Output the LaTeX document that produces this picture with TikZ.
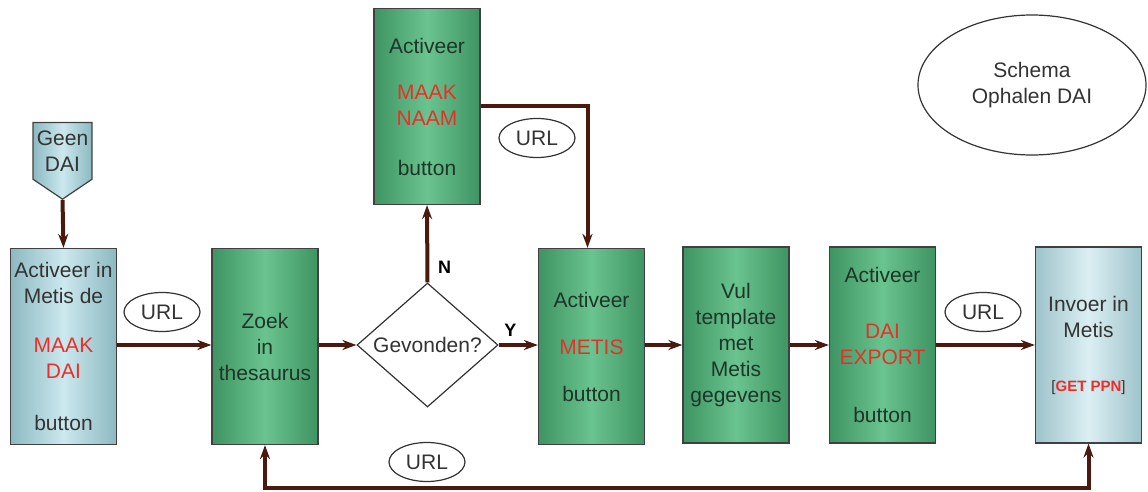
\documentclass[tikz,border=0pt]{standalone}
\usepackage{fontspec}
\setmainfont{Liberation Sans}
\usetikzlibrary{positioning, shapes.geometric, shapes.symbols, arrows.meta}
\definecolor{groenrand}{HTML}{3E9462}
\definecolor{groenmidden}{HTML}{6AC48F}
\definecolor{blauwrand}{HTML}{8DB9C1}
\definecolor{blauwmidden}{HTML}{CBE8EE}
\definecolor{pijlkleur}{HTML}{4A1A0E}
\definecolor{rood}{HTML}{E8302A}
\definecolor{groentekst}{HTML}{1E3527}
\definecolor{grijstekst}{HTML}{333333}
\newcommand{\roodtxt}[1]{\textcolor{rood}{#1}}
\tikzset{
	blok/.style={draw=black!75, line width=0.6pt, minimum width=53pt, minimum height=98pt,
		inner sep=0pt, align=center, font=\fontsize{10.5}{13}\selectfont},
	groenblok/.style={blok, left color=groenrand, right color=groenrand, middle color=groenmidden, text=groentekst},
	blauwblok/.style={blok, left color=blauwrand, right color=blauwrand, middle color=blauwmidden, text=grijstekst},
	urlbel/.style={ellipse, draw=black!80, line width=0.6pt, fill=white, minimum width=38pt, minimum height=19.5pt,
		inner sep=0pt, text=grijstekst, font=\fontsize{10.5}{13}\selectfont},
	pijl/.style={draw=pijlkleur, line width=2pt, -{Stealth[length=7pt, width=5pt]}},
	keuze/.style={font=\bfseries\fontsize{9}{11}\selectfont}
}
\begin{document}
\begin{tikzpicture}[x=0.5pt, y=-0.5pt]
		\useasboundingbox (0,0) rectangle (1148,492);
		\node[signal, signal from=nowhere, signal to=south, signal pointer angle=112,
			draw=black!75, line width=0.6pt, left color=blauwrand, right color=blauwrand, middle color=blauwmidden,
			minimum width=29.5pt, minimum height=34pt, inner xsep=1pt, inner ysep=4pt, align=center, text=grijstekst,
			font=\fontsize{10.5}{13}\selectfont, anchor=north] (geen) at (62.5,122) {Geen\\DAI};
		\node[blauwblok] (activeer) at (63.5,346.5) {Activeer in\\Metis de\\[11.5pt]\roodtxt{MAAK}\\\roodtxt{DAI}\\[13pt]button};
		\node[groenblok] (zoek) at (265,346.5) {Zoek\\in\\thesaurus};
		\node[diamond, draw=black!80, line width=0.6pt, fill=white, minimum width=70.5pt, minimum height=55pt,
			inner sep=0pt, text=grijstekst, font=\fontsize{10.5}{13}\selectfont] (gevonden) at (427.5,345) {Gevonden?};
		\node[groenblok] (maaknaam) at (427,106.5) {Activeer\\[10pt]\roodtxt{MAAK}\\\roodtxt{NAAM}\\[12pt]button};
		\node[groenblok] (metis) at (591.5,346.5) {Activeer\\[10.5pt]\roodtxt{METIS}\\[10.5pt]button};
		\node[groenblok] (vul) at (736,345) {Vul\\template\\met\\Metis\\gegevens};
		\node[groenblok] (export) at (882.5,345) {Activeer\\[15pt]\roodtxt{DAI}\\\roodtxt{EXPORT}\\[16pt]button};
		\node[blauwblok, left color=blauwrand!85, right color=blauwrand!85, middle color=blauwmidden!70!white] (invoer) at (1088.5,345)
			{Invoer in\\Metis\\[14pt]{\fontsize{7.5}{9}\selectfont[\textbf{\roodtxt{GET PPN}}]}};
		\node[ellipse, draw=black!80, line width=0.6pt, minimum width=114pt, minimum height=70pt, align=center,
			text=grijstekst, font=\fontsize{10.5}{13}\selectfont] (schema) at (1032,85) {Schema\\Ophalen DAI};

		\node[urlbel] (url1) at (162,312) {URL};
		\node[urlbel] (url2) at (537,138) {URL};
		\node[urlbel] (url3) at (983,312) {URL};
		\node[urlbel] (url4) at (427,462) {URL};

		\draw[pijl] (geen.south) -- (activeer.north);
		\draw[pijl] (activeer.east |- gevonden.east) -- (zoek.west |- gevonden.east);
		\draw[pijl] (zoek.east |- gevonden.west) -- (gevonden.west);
		\draw[pijl] (gevonden.north) -- node[keuze, right=1pt, pos=0.2] (nee) {N} (maaknaam.south);
		\draw[pijl] (gevonden.east) -- node[keuze, above=0pt, pos=0.3] (ja) {Y} (metis.west |- gevonden.east);
		\draw[pijl] (maaknaam.east) -| ([xshift=-2pt]metis.north);
		\draw[pijl] (metis.east |- vul.west) -- (vul.west);
		\draw[pijl] (vul.east) -- (export.west);
		\draw[pijl] (export.east) -- (invoer.west);
		\coordinate (onder) at (0,488);
		\draw[pijl, {Stealth[length=7pt, width=5pt]}-{Stealth[length=7pt, width=5pt]}]
			(zoek.south) -- (zoek.south |- onder) -- (invoer.south |- onder) -- (invoer.south);
	\end{tikzpicture}
\end{document}
